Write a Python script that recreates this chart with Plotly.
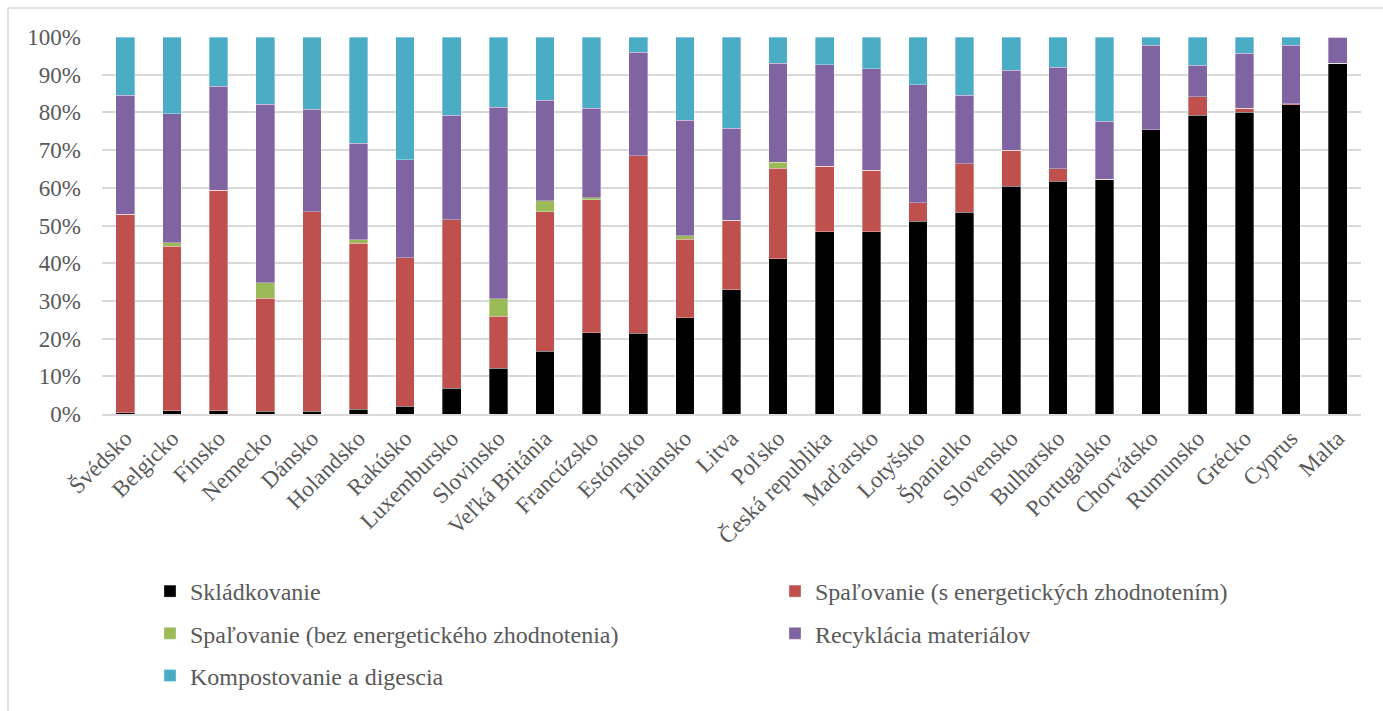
import plotly.graph_objects as go

# Countries, ordered by share of landfilling (ascending)
countries = [
    "Švédsko", "Belgicko", "Fínsko", "Nemecko", "Dánsko", "Holandsko", "Rakúsko",
    "Luxembursko", "Slovinsko", "Veľká Británia", "Francúzsko", "Estónsko",
    "Taliansko", "Litva", "Poľsko", "Česká republika", "Maďarsko", "Lotyšsko",
    "Španielko", "Slovensko", "Bulharsko", "Portugalsko", "Chorvátsko",
    "Rumunsko", "Grécko", "Cyprus", "Malta",
]

# Shares of municipal waste treatment (%)
skladkovanie = [0.3, 0.9, 0.9, 0.7, 0.7, 1.3, 2.0, 6.8, 12.1, 16.6, 21.5, 21.4, 25.5,
                32.9, 41.2, 48.3, 48.4, 51.1, 53.5, 60.4, 61.7, 62.3, 75.4, 79.2,
                80.0, 82.0, 93.1]
spal_s_energ = [52.7, 43.6, 58.5, 30.0, 52.9, 44.0, 39.4, 44.7, 13.8, 37.1, 35.3, 47.1,
                20.8, 18.5, 24.0, 17.4, 16.2, 4.9, 12.9, 9.6, 3.4, 0.0, 0.0, 5.0,
                1.1, 0.3, 0.0]
spal_bez_energ = [0.0, 0.9, 0.0, 4.1, 0.0, 0.9, 0.0, 0.0, 4.7, 2.9, 0.5, 0.0, 1.0,
                  0.0, 1.6, 0.0, 0.0, 0.0, 0.0, 0.0, 0.0, 0.0, 0.0, 0.0, 0.0, 0.0, 0.0]
recyklacia = [31.5, 34.3, 27.5, 47.3, 27.3, 25.6, 26.1, 27.8, 50.8, 26.6, 23.8, 27.4,
              30.6, 24.4, 26.2, 27.0, 27.0, 31.4, 18.1, 21.2, 26.9, 15.3, 22.4, 8.3,
              14.6, 15.5, 6.9]
kompostovanie = [15.5, 20.3, 13.1, 17.9, 19.1, 28.2, 32.5, 20.7, 18.6, 16.8, 18.9, 4.1,
                 22.1, 24.2, 7.0, 7.3, 8.4, 12.6, 15.5, 8.8, 8.0, 22.4, 2.2, 7.5,
                 4.3, 2.2, 0.0]

y_ticks = [0, 10, 20, 30, 40, 50, 60, 70, 80, 90, 100]
y_tick_labels = [f"{v}%" for v in y_ticks]

series = [
    ("Skládkovanie", skladkovanie, "#000000", "legend"),
    ("Spaľovanie (s energetických zhodnotením)", spal_s_energ, "#C0504D", "legend2"),
    ("Spaľovanie (bez energetického zhodnotenia)", spal_bez_energ, "#9BBB59", "legend"),
    ("Recyklácia materiálov", recyklacia, "#8064A2", "legend2"),
    ("Kompostovanie a digescia", kompostovanie, "#4BACC6", "legend"),
]

FONT = "Liberation Serif"
TXT = "#595959"
GRID = "#D9D9D9"

W, H = 1383, 711
L, R, T, B = 102, 22, 37, 297
PW, PH = W - L - R, H - T - B


def px_x(px):
    return (px - L) / PW


def px_y(py):
    return (H - B - py) / PH


fig = go.Figure()
for name, vals, color, leg in series:
    fig.add_trace(go.Bar(
        x=countries, y=vals, name=name, legend=leg, legendgroup=name,
        marker=dict(color=color, line=dict(color="rgba(255,255,255,0.55)", width=0.6)),
    ))

legend_common = dict(
    orientation="v", traceorder="grouped", tracegroupgap=8,
    font=dict(family=FONT, size=24, color=TXT),
    bgcolor="rgba(0,0,0,0)", itemwidth=30, yanchor="top", xanchor="left",
)

fig.update_layout(
    width=W, height=H,
    margin=dict(l=L, r=R, t=T, b=B, autoexpand=False),
    barmode="stack", bargap=0.6,
    plot_bgcolor="white", paper_bgcolor="white",
    font=dict(family=FONT, size=22, color=TXT),
    showlegend=True,
    legend=dict(x=px_x(150), y=px_y(569), **legend_common),
    legend2=dict(x=px_x(775), y=px_y(569), **legend_common),
    xaxis=dict(
        tickangle=-45, showgrid=False, showline=True, linecolor=GRID, linewidth=1.5,
        ticks="", tickfont=dict(family=FONT, size=23, color=TXT),
    ),
    yaxis=dict(
        range=[0, 100], tickvals=y_ticks, ticktext=y_tick_labels, showgrid=True,
        gridcolor=GRID, gridwidth=1.5, zeroline=False, showline=False, ticks="",
        ticklabelstandoff=20, tickfont=dict(family=FONT, size=23, color=TXT),
    ),
    shapes=[
        dict(type="line", xref="paper", yref="paper", x0=px_x(8), x1=px_x(W + 5),
             y0=px_y(8), y1=px_y(8), line=dict(color=GRID, width=1.5)),
        dict(type="line", xref="paper", yref="paper", x0=px_x(8), x1=px_x(8),
             y0=px_y(8), y1=px_y(H + 5), line=dict(color=GRID, width=1.5)),
    ],
)

fig.write_html("out.html")
